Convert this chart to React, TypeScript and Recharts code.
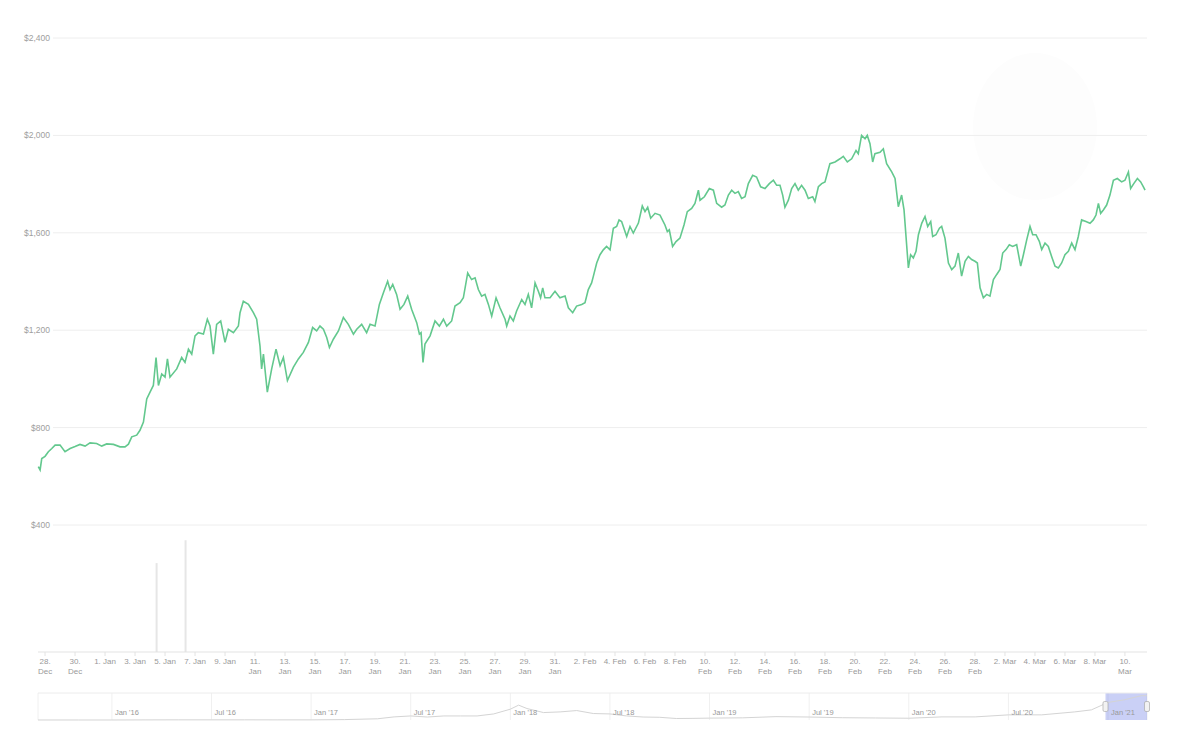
import {
  LineChart, Line, BarChart, Bar, XAxis, YAxis, CartesianGrid,
  ReferenceArea, ReferenceDot, ReferenceLine
} from 'recharts';

const FONT = '"Liberation Sans", Arial, Helvetica, sans-serif';
const GREEN = '#63c88e';

// price pane: day offset from 28 Dec 2020, price in USD
const pricePoints: [number, number][] = [
  [-0.45, 640], [-0.33, 626], [-0.22, 673], [0, 682], [0.22, 701], [0.45, 714], [0.67, 728], [1.0, 728],
  [1.33, 701], [1.67, 714], [2.0, 722], [2.33, 731], [2.67, 724], [3.0, 737], [3.44, 735], [3.78, 724],
  [4.11, 733], [4.56, 731], [5.0, 721], [5.33, 721], [5.56, 732], [5.78, 762], [6.11, 769], [6.33, 789],
  [6.56, 823], [6.78, 918], [7.0, 946], [7.22, 973], [7.4, 1088], [7.56, 973], [7.78, 1020], [8.0, 1007],
  [8.16, 1082], [8.33, 1007], [8.78, 1041], [9.11, 1088], [9.33, 1068], [9.56, 1122], [9.78, 1102], [10.0, 1177],
  [10.22, 1190], [10.56, 1184], [10.82, 1245], [11.0, 1217], [11.22, 1102], [11.44, 1224], [11.71, 1238], [12.0, 1150],
  [12.22, 1204], [12.56, 1190], [12.89, 1217], [13.0, 1272], [13.22, 1319], [13.56, 1306], [13.89, 1272], [14.11, 1245],
  [14.33, 1136], [14.44, 1041], [14.56, 1102], [14.82, 946], [15.11, 1041], [15.4, 1122], [15.67, 1054], [15.89, 1088],
  [16.16, 993], [16.56, 1048], [16.89, 1082], [17.22, 1109], [17.56, 1150], [17.84, 1211], [18.11, 1197], [18.33, 1217],
  [18.56, 1204], [18.78, 1170], [18.96, 1129], [19.22, 1163], [19.56, 1197], [19.89, 1252], [20.22, 1224], [20.56, 1184],
  [20.78, 1204], [21.11, 1224], [21.44, 1190], [21.67, 1224], [22.0, 1217], [22.29, 1306], [22.56, 1354], [22.84, 1401],
  [23.0, 1367], [23.18, 1388], [23.44, 1347], [23.67, 1286], [23.93, 1306], [24.18, 1340], [24.44, 1286], [24.78, 1231],
  [24.96, 1184], [25.07, 1190], [25.2, 1068], [25.33, 1143], [25.67, 1177], [26.0, 1238], [26.29, 1217], [26.56, 1245],
  [26.78, 1217], [27.11, 1238], [27.33, 1299], [27.67, 1313], [27.89, 1333], [28.18, 1435], [28.44, 1408], [28.67, 1415],
  [28.89, 1367], [29.11, 1340], [29.33, 1347], [29.56, 1306], [29.78, 1258], [30.07, 1333], [30.33, 1292], [30.67, 1245],
  [30.78, 1217], [31.0, 1258], [31.22, 1238], [31.44, 1279], [31.78, 1326], [32.0, 1306], [32.22, 1347], [32.44, 1292],
  [32.67, 1394], [32.89, 1360], [33.04, 1333], [33.18, 1374], [33.33, 1333], [33.67, 1333], [34.0, 1360], [34.33, 1333],
  [34.67, 1340], [34.89, 1292], [35.18, 1272], [35.44, 1299], [35.78, 1306], [36.0, 1313], [36.22, 1367], [36.44, 1394],
  [36.56, 1422], [36.78, 1476], [37.0, 1510], [37.22, 1530], [37.44, 1544], [37.67, 1530], [37.89, 1619], [38.11, 1626],
  [38.27, 1653], [38.44, 1646], [38.78, 1585], [39.0, 1626], [39.22, 1599], [39.56, 1640], [39.82, 1710], [40.0, 1687],
  [40.18, 1705], [40.38, 1660], [40.67, 1680], [41.0, 1673], [41.33, 1632], [41.49, 1605], [41.62, 1612], [41.84, 1544],
  [42.07, 1564], [42.33, 1578], [42.6, 1632], [42.82, 1687], [43.11, 1700], [43.33, 1721], [43.56, 1775], [43.67, 1734],
  [43.96, 1748], [44.29, 1782], [44.56, 1775], [44.78, 1721], [45.11, 1705], [45.33, 1714], [45.56, 1755], [45.78, 1775],
  [46.0, 1762], [46.22, 1769], [46.44, 1741], [46.67, 1748], [46.89, 1802], [47.18, 1836], [47.44, 1829], [47.71, 1789],
  [48.0, 1782], [48.29, 1802], [48.56, 1816], [48.78, 1795], [49.0, 1795], [49.18, 1755], [49.33, 1705], [49.56, 1734],
  [49.78, 1782], [50.0, 1802], [50.22, 1775], [50.44, 1795], [50.67, 1775], [50.89, 1741], [51.18, 1748], [51.33, 1728],
  [51.56, 1789], [51.78, 1802], [52.0, 1809], [52.33, 1884], [52.67, 1891], [53.0, 1904], [53.22, 1914], [53.49, 1891],
  [53.78, 1904], [54.07, 1938], [54.22, 1925], [54.44, 2000], [54.67, 1986], [54.82, 2000], [55.0, 1966], [55.18, 1891],
  [55.33, 1925], [55.67, 1931], [55.89, 1945], [56.11, 1884], [56.45, 1850], [56.67, 1823], [56.89, 1707], [57.11, 1755],
  [57.27, 1694], [57.56, 1456], [57.71, 1510], [57.89, 1497], [58.07, 1524], [58.23, 1592], [58.45, 1639], [58.67, 1667],
  [58.85, 1626], [59.05, 1646], [59.18, 1585], [59.4, 1592], [59.63, 1619], [59.78, 1626], [60.0, 1578], [60.23, 1476],
  [60.45, 1449], [60.67, 1463], [60.89, 1517], [61.11, 1422], [61.34, 1483], [61.56, 1503], [61.78, 1490], [62.0, 1483],
  [62.16, 1476], [62.34, 1374], [62.56, 1333], [62.78, 1347], [63.0, 1340], [63.23, 1408], [63.45, 1429], [63.67, 1449],
  [63.85, 1517], [64.07, 1531], [64.29, 1551], [64.51, 1544], [64.78, 1551], [65.05, 1463], [65.23, 1510], [65.45, 1571],
  [65.67, 1626], [65.85, 1592], [66.07, 1592], [66.29, 1565], [66.45, 1531], [66.67, 1558], [66.89, 1544], [67.11, 1503],
  [67.34, 1463], [67.56, 1456], [67.78, 1476], [68.0, 1510], [68.23, 1524], [68.45, 1558], [68.67, 1531], [68.89, 1585],
  [69.11, 1653], [69.4, 1646], [69.67, 1639], [69.89, 1653], [70.07, 1673], [70.23, 1721], [70.38, 1680], [70.56, 1694],
  [70.78, 1714], [71.0, 1755], [71.23, 1816], [71.49, 1823], [71.78, 1809], [72.0, 1816], [72.23, 1850], [72.38, 1782],
  [72.6, 1803], [72.83, 1823], [73.05, 1809], [73.23, 1789], [73.34, 1775],
];

const priceTicks = [400, 800, 1200, 1600, 2000, 2400];

const xTicks = [0, 2, 4, 6, 8, 10, 12, 14, 16, 18, 20, 22, 24, 26, 28, 30, 32, 34, 36,
  38, 40, 42, 44, 46, 48, 50, 52, 54, 56, 58, 60, 62, 64, 66, 68, 70, 72];
const xLabels = ['28. Dec', '30. Dec', '1. Jan', '3. Jan', '5. Jan', '7. Jan', '9. Jan', '11. Jan',
  '13. Jan', '15. Jan', '17. Jan', '19. Jan', '21. Jan', '23. Jan', '25. Jan', '27. Jan', '29. Jan',
  '31. Jan', '2. Feb', '4. Feb', '6. Feb', '8. Feb', '10. Feb', '12. Feb', '14. Feb', '16. Feb',
  '18. Feb', '20. Feb', '22. Feb', '24. Feb', '26. Feb', '28. Feb', '2. Mar', '4. Mar', '6. Mar',
  '8. Mar', '10. Mar'];

// volume pane (only two bars show up)
const volumeDays = [7.47, 9.4];
const volumeValues = [35, 44];

// navigator: months since Jan 2016, price in USD
const navPoints: [number, number][] = [
  [-4.45, 2], [-2, 1], [0, 1], [2, 8], [4, 12], [6, 11], [8, 12], [10, 9], [12, 10], [14, 30],
  [16, 90], [17, 230], [18, 300], [19, 220], [20, 300], [21, 300], [22, 300], [23, 450], [24, 800],
  [24.5, 1100], [25, 850], [26, 550], [27, 600], [28, 700], [29, 480], [30, 450], [31, 300], [32, 220],
  [33, 200], [34, 110], [35, 120], [36, 140], [38, 160], [40, 250], [42, 220], [44, 170], [46, 150],
  [48, 130], [50, 230], [52, 230], [54, 380], [56, 380], [58, 600], [59, 750], [60, 1300], [61, 1500],
  [62, 1800], [62.35, 1800],
];
const navTicks = [0, 6, 12, 18, 24, 30, 36, 42, 48, 54, 60];
const navLabels = ["Jan '16", "Jul '16", "Jan '17", "Jul '17", "Jan '18", "Jul '18", "Jan '19",
  "Jul '19", "Jan '20", "Jul '20", "Jan '21"];
const navSelection = [59.85, 62.35];

const priceData = pricePoints.map(([d, p]) => ({ d, p }));
const volumeData = volumeDays.map((d, i) => ({ d, v: volumeValues[i] }));
const navData = navPoints.map(([m, p]) => ({ m, p }));

const DAY_DOMAIN = [-0.47, 73.47];
const NAV_DOMAIN = [-4.45, 62.35];

function PriceTick({ y, payload }: any) {
  return (
    <g>
      <rect x={36} y={y - 6} width={17} height={12} fill="#fff" />
      <text x={50} y={y} dy={3} textAnchor="end" fontSize={8.5} fill="#9e9e9e" fontFamily={FONT}>
        {'$' + Number(payload.value).toLocaleString('en-US')}
      </text>
    </g>
  );
}

function DayTick({ x, y, payload }: any) {
  const label = xLabels[xTicks.indexOf(payload.value)] ?? '';
  const [day, mon] = label.split(' ');
  const twoLine = day.length > 2;
  return (
    <text x={x} y={y} textAnchor="middle" fontSize={8} fill="#999" fontFamily={FONT}>
      {twoLine ? (
        <>
          <tspan x={x} dy={6}>{day}</tspan>
          <tspan x={x} dy={10}>{mon}</tspan>
        </>
      ) : (
        <tspan x={x} dy={6}>{label}</tspan>
      )}
    </text>
  );
}

function NavTick({ x, y, payload }: any) {
  const label = navLabels[navTicks.indexOf(payload.value)] ?? '';
  return (
    <text x={x + 3} y={y} dy={-5} fontSize={7.5} fill="#999" fontFamily={FONT}>
      {label}
    </text>
  );
}

const Handle = ({ cx, cy }: any) => (
  <rect x={cx - 2.5} y={cy - 5} width={5} height={10} rx={1.5} fill="#f2f2f2" stroke="#aaa" strokeWidth={0.7} />
);

export default function App() {
  return (
    <div style={{ position: 'absolute', left: 0, top: 0, width: 1200, height: 751, background: '#fff', fontFamily: FONT }}>
      {/* faint logo watermark */}
      <div style={{ position: 'absolute', left: 973, top: 53, width: 124, height: 147, borderRadius: '50%', background: '#fdfdfd' }} />

      <div style={{ position: 'absolute', left: 0, top: 0 }}>
        <LineChart width={1200} height={530} data={priceData} margin={{ top: 38, right: 53, bottom: 5, left: 0 }}>
          <CartesianGrid vertical={false} stroke="#eeeeee" />
          <XAxis type="number" dataKey="d" domain={DAY_DOMAIN} hide />
          <YAxis
            type="number"
            domain={[400, 2400]}
            ticks={priceTicks}
            width={38}
            axisLine={false}
            tickLine={false}
            tick={<PriceTick />}
            interval={0}
          />
          <Line type="linear" dataKey="p" stroke={GREEN} strokeWidth={1.6} dot={false} isAnimationActive={false} />
        </LineChart>
      </div>

      <div style={{ position: 'absolute', left: 0, top: 525 }}>
        <BarChart width={1200} height={160} data={volumeData} margin={{ top: 0, right: 53, bottom: 3, left: 38 }}>
          <XAxis
            type="number"
            dataKey="d"
            domain={DAY_DOMAIN}
            ticks={xTicks}
            interval={0}
            height={30}
            stroke="#e3e3e3"
            tickSize={4}
            tickMargin={2}
            tick={<DayTick />}
          />
          <YAxis hide domain={[0, 50]} />
          <Bar dataKey="v" fill="#e6e6e6" barSize={2} isAnimationActive={false} />
        </BarChart>
      </div>

      <div style={{ position: 'absolute', left: 0, top: 690 }}>
        <LineChart width={1200} height={31} data={navData} margin={{ top: 3, right: 53, bottom: 0, left: 38 }}>
          <CartesianGrid horizontal={false} stroke="#f0f0f0" />
          <XAxis
            type="number"
            dataKey="m"
            domain={NAV_DOMAIN}
            ticks={navTicks}
            interval={0}
            height={1}
            axisLine={false}
            tickLine={false}
            tickSize={0}
            tickMargin={0}
            tick={<NavTick />}
          />
          <YAxis hide domain={[0, 2000]} />
          <ReferenceLine y={2000} stroke="#ececec" />
          <Line type="linear" dataKey="p" stroke="#d4d4d4" strokeWidth={1} dot={false} isAnimationActive={false} />
          <ReferenceArea x1={navSelection[0]} x2={navSelection[1]} fill="rgb(102,120,230)" fillOpacity={0.35} stroke="none" />
          <ReferenceDot x={navSelection[0]} y={1000} shape={<Handle />} />
          <ReferenceDot x={navSelection[1]} y={1000} shape={<Handle />} />
        </LineChart>
      </div>
    </div>
  );
}
